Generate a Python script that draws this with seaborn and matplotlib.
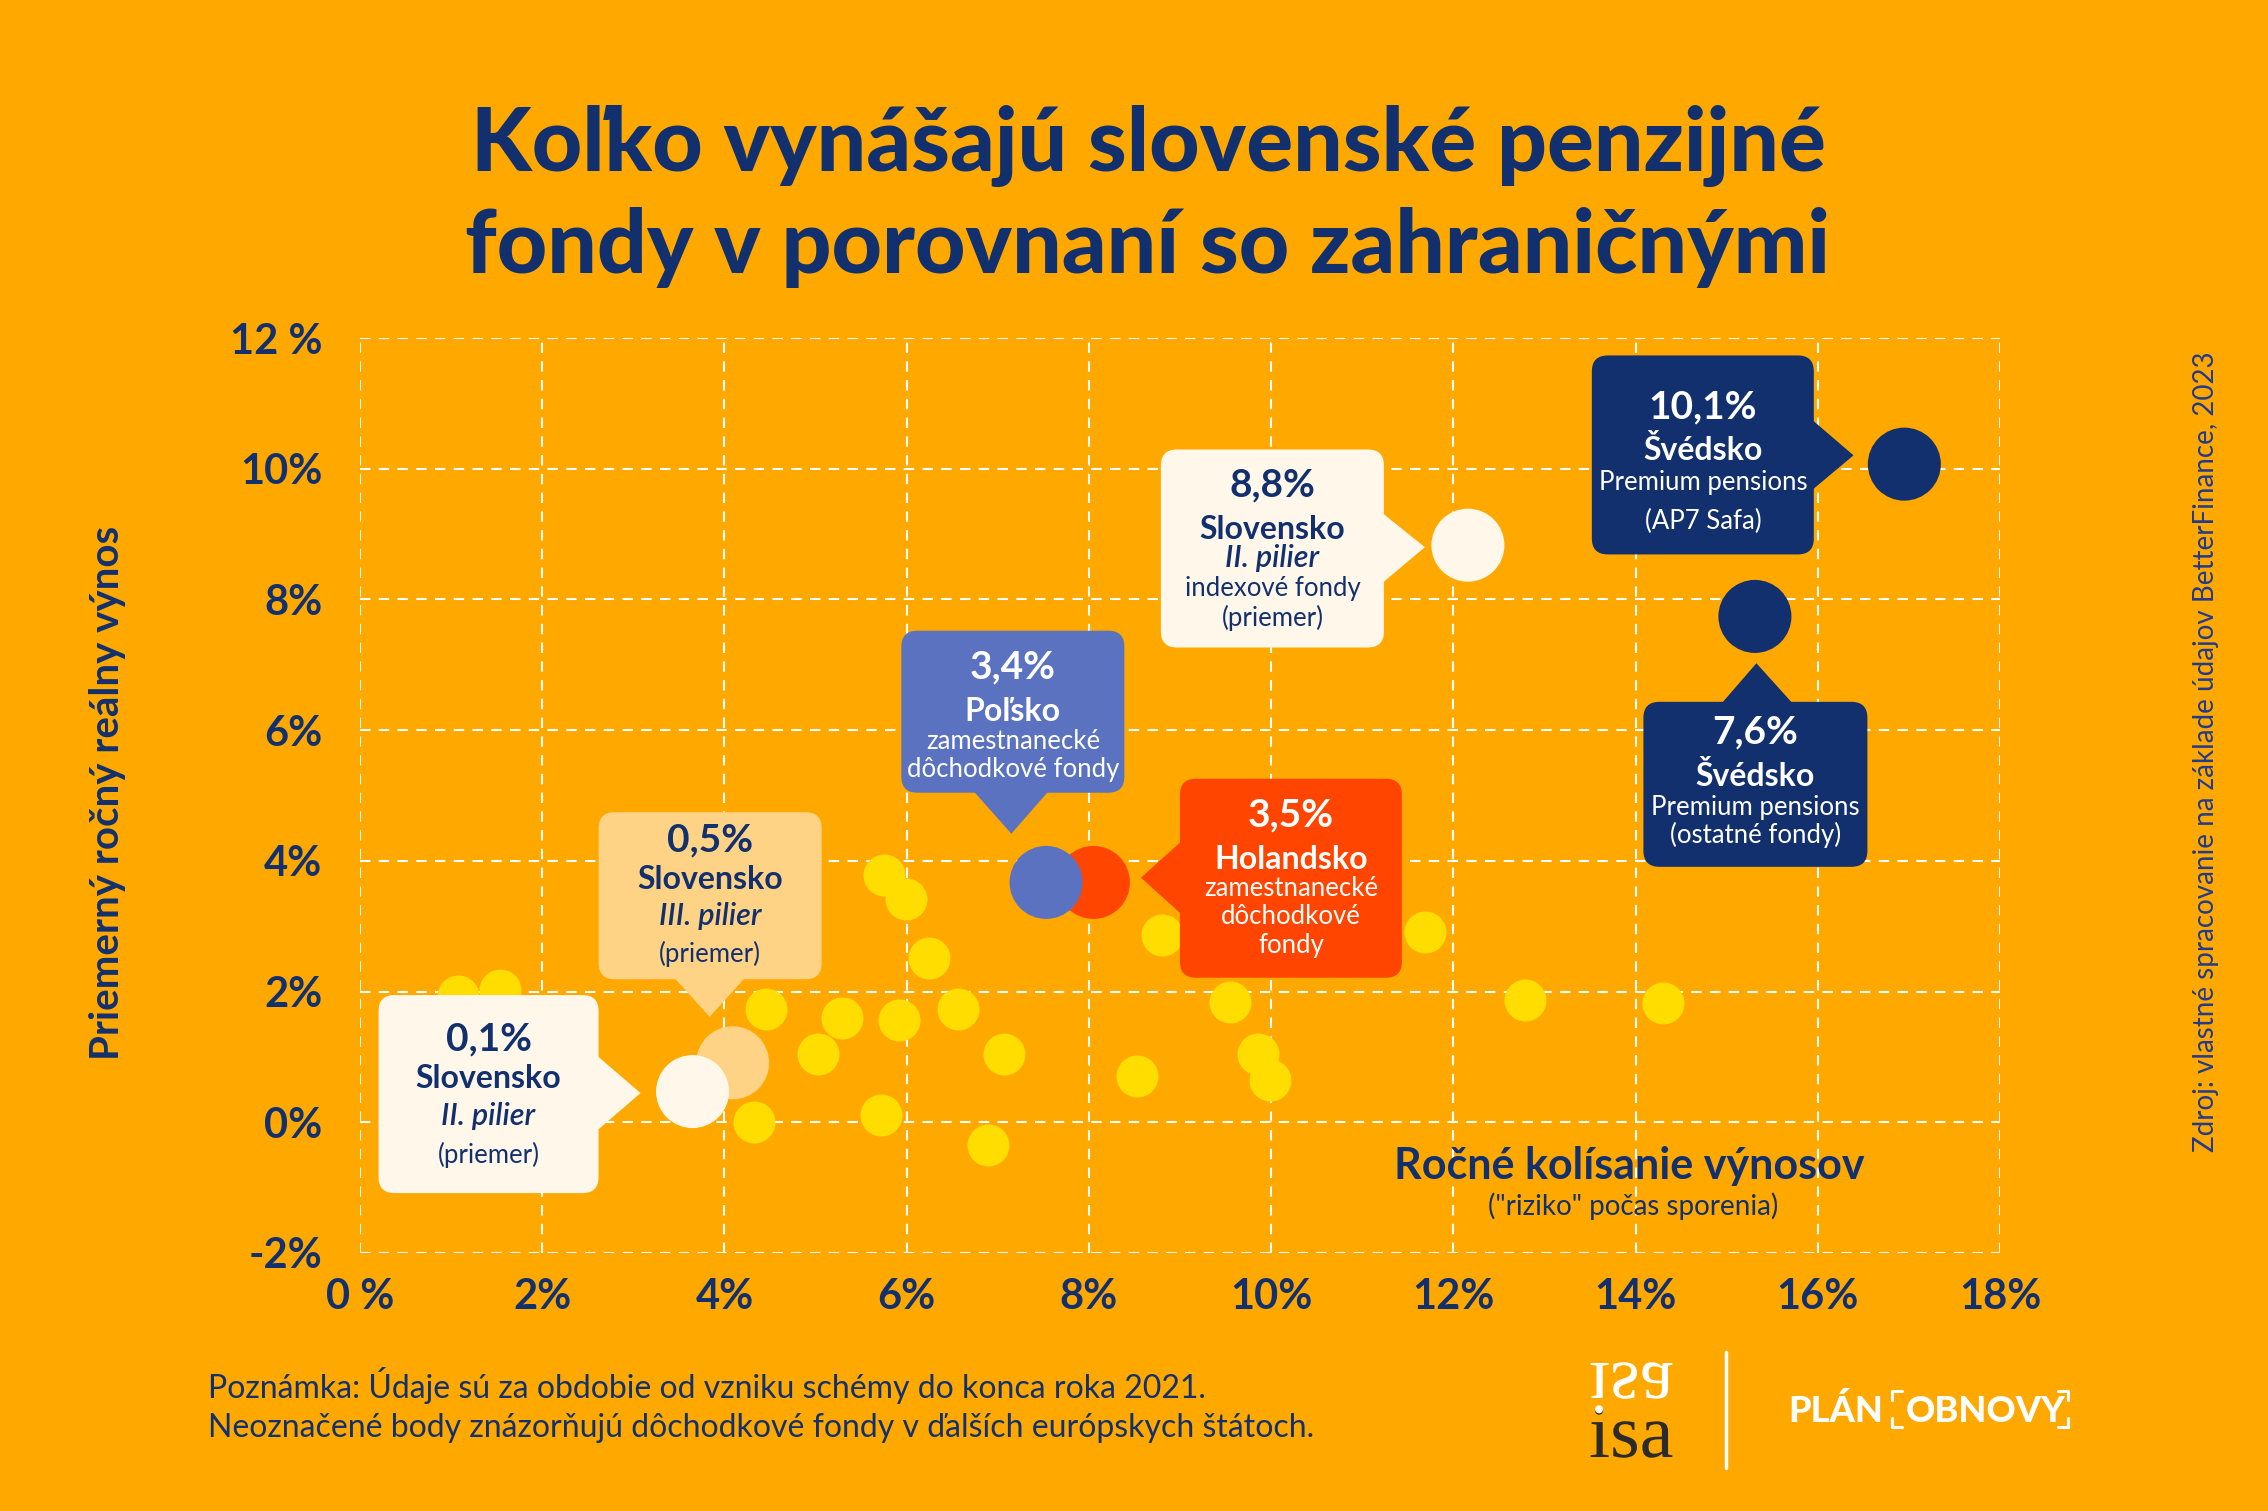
import pandas as pd
import matplotlib.pyplot as plt
import matplotlib.transforms as mtransforms
from matplotlib.patches import FancyBboxPatch, Polygon, PathPatch
from matplotlib.textpath import TextPath
from matplotlib.font_manager import FontProperties
from matplotlib.lines import Line2D
import seaborn as sns

# ── Data ───────────────────────────────────────────────────
# unlabeled European pension funds: annual volatility (%) / average real return (%)
other_risk = [1.08, 1.54, 5.75, 5.99, 6.24, 4.46, 5.29, 5.92, 6.56, 5.03, 7.07,
              4.32, 5.72, 6.89, 8.53, 8.80, 9.55, 9.86, 9.99, 11.69, 12.79, 14.30]
other_ret = [1.93, 2.03, 3.78, 3.41, 2.52, 1.73, 1.59, 1.57, 1.73, 1.04, 1.04,
             0.00, 0.11, -0.35, 0.71, 2.87, 1.84, 1.05, 0.65, 2.91, 1.87, 1.82]

# labeled funds (drawing order: later ones on top)
hl_key = ["nl", "pl", "sk3", "sk2", "sk2_idx", "se_ap7", "se_other"]
hl_risk = [8.05, 7.53, 4.09, 3.65, 12.16, 16.95, 15.31]
hl_ret = [3.67, 3.67, 0.91, 0.47, 8.83, 10.07, 7.74]
hl_value = [3.5, 3.4, 0.5, 0.1, 8.8, 10.1, 7.6]
hl_country = ["Holandsko", "Poľsko", "Slovensko", "Slovensko", "Slovensko", "Švédsko", "Švédsko"]
hl_pillar = ["", "", "III. pilier", "II. pilier", "II. pilier", "", ""]
hl_desc = [["zamestnanecké", "dôchodkové", "fondy"],
           ["zamestnanecké", "dôchodkové fondy"],
           ["(priemer)"],
           ["(priemer)"],
           ["indexové fondy", "(priemer)"],
           ["Premium pensions", "(AP7 Safa)"],
           ["Premium pensions", "(ostatné fondy)"]]

x_ticks = [0, 2, 4, 6, 8, 10, 12, 14, 16, 18]
x_ticklabels = ["0 %", "2%", "4%", "6%", "8%", "10%", "12%", "14%", "16%", "18%"]
y_ticks = [-2, 0, 2, 4, 6, 8, 10, 12]
y_ticklabels = ["-2%", "0%", "2%", "4%", "6%", "8%", "10%", "12 %"]

# ── Style ──────────────────────────────────────────────────
ORANGE = "#FFA900"
NAVY = "#13306E"
YELLOW = "#FFDD00"
CREAM = "#FFF8EA"
PEACH = "#FFD385"
BLUE = "#5B72C0"
RED = "#FF4500"
WHITE = "white"

fill = {"nl": RED, "pl": BLUE, "sk3": PEACH, "sk2": CREAM,
        "sk2_idx": CREAM, "se_ap7": NAVY, "se_other": NAVY}
text_col = {"nl": WHITE, "pl": WHITE, "sk3": NAVY, "sk2": NAVY,
            "sk2_idx": NAVY, "se_ap7": WHITE, "se_other": WHITE}

sns.set_theme(style="white")
plt.rcParams["font.family"] = ["Lato", "DejaVu Sans"]

W, H, DPI = 2268, 1511, 100
fig = plt.figure(figsize=(W / DPI, H / DPI), dpi=DPI, facecolor=ORANGE)
ax = fig.add_axes([360 / W, 1 - 1253 / H, 1640 / W, 915 / H])
ax.set_facecolor(ORANGE)

def fx(x):
    return x / W

def fy(y):
    return 1 - y / H

# ── Scatter ────────────────────────────────────────────────
df_other = pd.DataFrame({"risk": other_risk, "ret": other_ret})
df_hl = pd.DataFrame({"key": hl_key, "risk": hl_risk, "ret": hl_ret})

sns.scatterplot(data=df_other, x="risk", y="ret", color=YELLOW, s=912,
                linewidth=0, legend=False, ax=ax, zorder=3)
sns.scatterplot(data=df_hl, x="risk", y="ret", hue="key", palette=fill, s=2765,
                linewidth=0, legend=False, ax=ax, zorder=6)

ax.set_xlim(0, 18)
ax.set_ylim(-2, 12)
ax.set_xticks(x_ticks)
ax.set_xticklabels(x_ticklabels, fontweight="bold")
ax.set_yticks(y_ticks)
ax.set_yticklabels(y_ticklabels, fontweight="bold")
ax.tick_params(axis="both", length=0, labelsize=30, labelcolor=NAVY)
ax.tick_params(axis="x", pad=18)
ax.tick_params(axis="y", pad=27)
ax.grid(True, color="white", linestyle=(0, (5, 4)), linewidth=1.5)
ax.set_axisbelow(True)
for s in ax.spines.values():
    s.set_visible(False)

ax.set_ylabel("Priemerný ročný reálny výnos", fontsize=29, fontweight="bold", color=NAVY)
ax.yaxis.label.set_va("center")
ax.yaxis.set_label_coords(-0.1537, 0.503)
ax.set_xlabel("Ročné kolísanie výnosov", fontsize=31, fontweight="bold", color=NAVY)
ax.xaxis.label.set_va("center")
ax.xaxis.set_label_coords(0.774, 0.095)
ax.text(0.776, 0.051, '("riziko" počas sporenia)', transform=ax.transAxes,
        ha="center", va="center", fontsize=20, color=NAVY)

# ── Callouts (offsets in px from the dot) ──────────────────
callouts = {
    "sk2":      dict(box=(-314, -101.5, -94, 96.5), tip=(-52, -1.5),
                     base=((-95, 35.5), (-95, -38.5)), cx=-204, ys=[52.5, 13.5, -24.5, -63.5]),
    "sk3":      dict(box=(-134, 83.6, 89, 250.6), tip=(-23, 46),
                     base=((-58, 84.6), (12, 84.6)), cx=-22.5, ys=[222.6, 183.6, 146.6, 108.6]),
    "pl":       dict(box=(-144.7, 89.7, 78.3, 251.7), tip=(-34.7, 48.7),
                     base=((-72, 90.7), (2, 90.7)), cx=-33.2, ys=[215.7, 170.7, 140.7, 112.7]),
    "nl":       dict(box=(86.5, -95.3, 308.5, 103.7), tip=(47.5, 4.7),
                     base=((87.5, 40.7), (87.5, -31.3)), cx=197.5, ys=[67.7, 22.7, -6.3, -34.3, -63.3]),
    "sk2_idx":  dict(box=(-307, -102.3, -84, 95.7), tip=(-43, -2),
                     base=((-85, 31.7), (-85, -37.3)), cx=-195.5, ys=[59.7, 15.7, -13.3, -43.3, -72.3]),
    "se_ap7":   dict(box=(-312.5, -90.3, -90.5, 108.7), tip=(-50.8, 8.8),
                     base=((-91.5, 43.7), (-91.5, -25.3)), cx=-201.5, ys=[56.7, 13.7, -18.3, -57.3]),
    "se_other": dict(box=(-111.5, -250.4, 112.5, -85.4), tip=(1.5, -46.8),
                     base=((-32.8, -86.4), (37.2, -86.4)), cx=0.5, ys=[-115.4, -159.4, -191.4, -218.4]),
}

def inch(v):
    return v / DPI

for i, key in enumerate(hl_key):
    c = callouts[key]
    trans = fig.dpi_scale_trans + mtransforms.ScaledTranslation(hl_risk[i], hl_ret[i], ax.transData)
    x0, y0, x1, y1 = c["box"]
    ax.add_patch(FancyBboxPatch((inch(x0), inch(y0)), inch(x1 - x0), inch(y1 - y0),
                                boxstyle="round,pad=0,rounding_size=0.16",
                                fc=fill[key], ec="none", transform=trans, clip_on=False, zorder=4))
    tri = [(inch(c["base"][0][0]), inch(c["base"][0][1])),
           (inch(c["base"][1][0]), inch(c["base"][1][1])),
           (inch(c["tip"][0]), inch(c["tip"][1]))]
    ax.add_patch(Polygon(tri, closed=True, fc=fill[key], ec="none",
                         transform=trans, clip_on=False, zorder=4))

    pct = f"{hl_value[i]:.1f}".replace(".", ",") + "%"
    lines = [(pct, dict(fontsize=28, fontweight="bold")),
             (hl_country[i], dict(fontsize=23, fontweight="bold"))]
    if hl_pillar[i]:
        lines.append((hl_pillar[i], dict(fontsize=22, fontstyle="italic", fontweight="semibold")))
    for d in hl_desc[i]:
        lines.append((d, dict(fontsize=18.5)))
    for (txt, kw), ly in zip(lines, c["ys"]):
        ax.text(inch(c["cx"]), inch(ly), txt, transform=trans, ha="center", va="center",
                color=text_col[key], clip_on=False, zorder=5, **kw)

# ── Titles and notes ───────────────────────────────────────
fig.text(fx(1148), fy(171), "Koľko vynášajú slovenské penzijné", ha="center", va="baseline",
         fontsize=63, fontweight="black", color=NAVY)
fig.text(fx(1148), fy(273), "fondy v porovnaní so zahraničnými", ha="center", va="baseline",
         fontsize=63, fontweight="black", color=NAVY)

fig.text(fx(208), fy(1386), "Poznámka: Údaje sú za obdobie od vzniku schémy do konca roka 2021.",
         ha="left", va="center", fontsize=23, color=NAVY)
fig.text(fx(208), fy(1428), "Neoznačené body znázorňujú dôchodkové fondy v ďalších európskych štátoch.",
         ha="left", va="center", fontsize=23, color=NAVY)

fig.text(fx(2206), fy(752), "Zdroj: vlastné spracovanie na základe údajov BetterFinance, 2023",
         rotation=90, ha="center", va="center", fontsize=20, color="#233A8C")

# ── Logos ──────────────────────────────────────────────────
isa = TextPath((0, 0), "isa", size=76, prop=FontProperties(family="Liberation Serif"))
fig.add_artist(PathPatch(isa, fc="#2B2B2B", ec="none",
                         transform=mtransforms.Affine2D().translate(1589, H - 1457)))
fig.add_artist(PathPatch(isa, fc="white", ec="none",
                         transform=mtransforms.Affine2D().scale(1, -1).translate(1589, H - 1363)))
fig.add_artist(Line2D([fx(1726), fx(1726)], [fy(1352), fy(1468)], color="white",
                      linewidth=2.5, transform=fig.transFigure))

fig.text(fx(1788), fy(1411), "PLÁN", ha="left", va="center", fontsize=26,
         fontweight="black", color="white")
fig.text(fx(1906), fy(1411), "OBNOVY", ha="left", va="center", fontsize=26,
         fontweight="black", color="white")
for xs, ys in [([1902, 1892, 1892], [1391, 1391, 1400]),
               ([1892, 1892, 1902], [1418, 1427, 1427]),
               ([2058, 2068, 2068], [1391, 1391, 1400]),
               ([2068, 2068, 2058], [1418, 1427, 1427])]:
    fig.add_artist(Line2D([fx(v) for v in xs], [fy(v) for v in ys], color="white",
                          linewidth=2.2, transform=fig.transFigure))

fig.savefig("out.png", dpi=DPI, facecolor=ORANGE)
